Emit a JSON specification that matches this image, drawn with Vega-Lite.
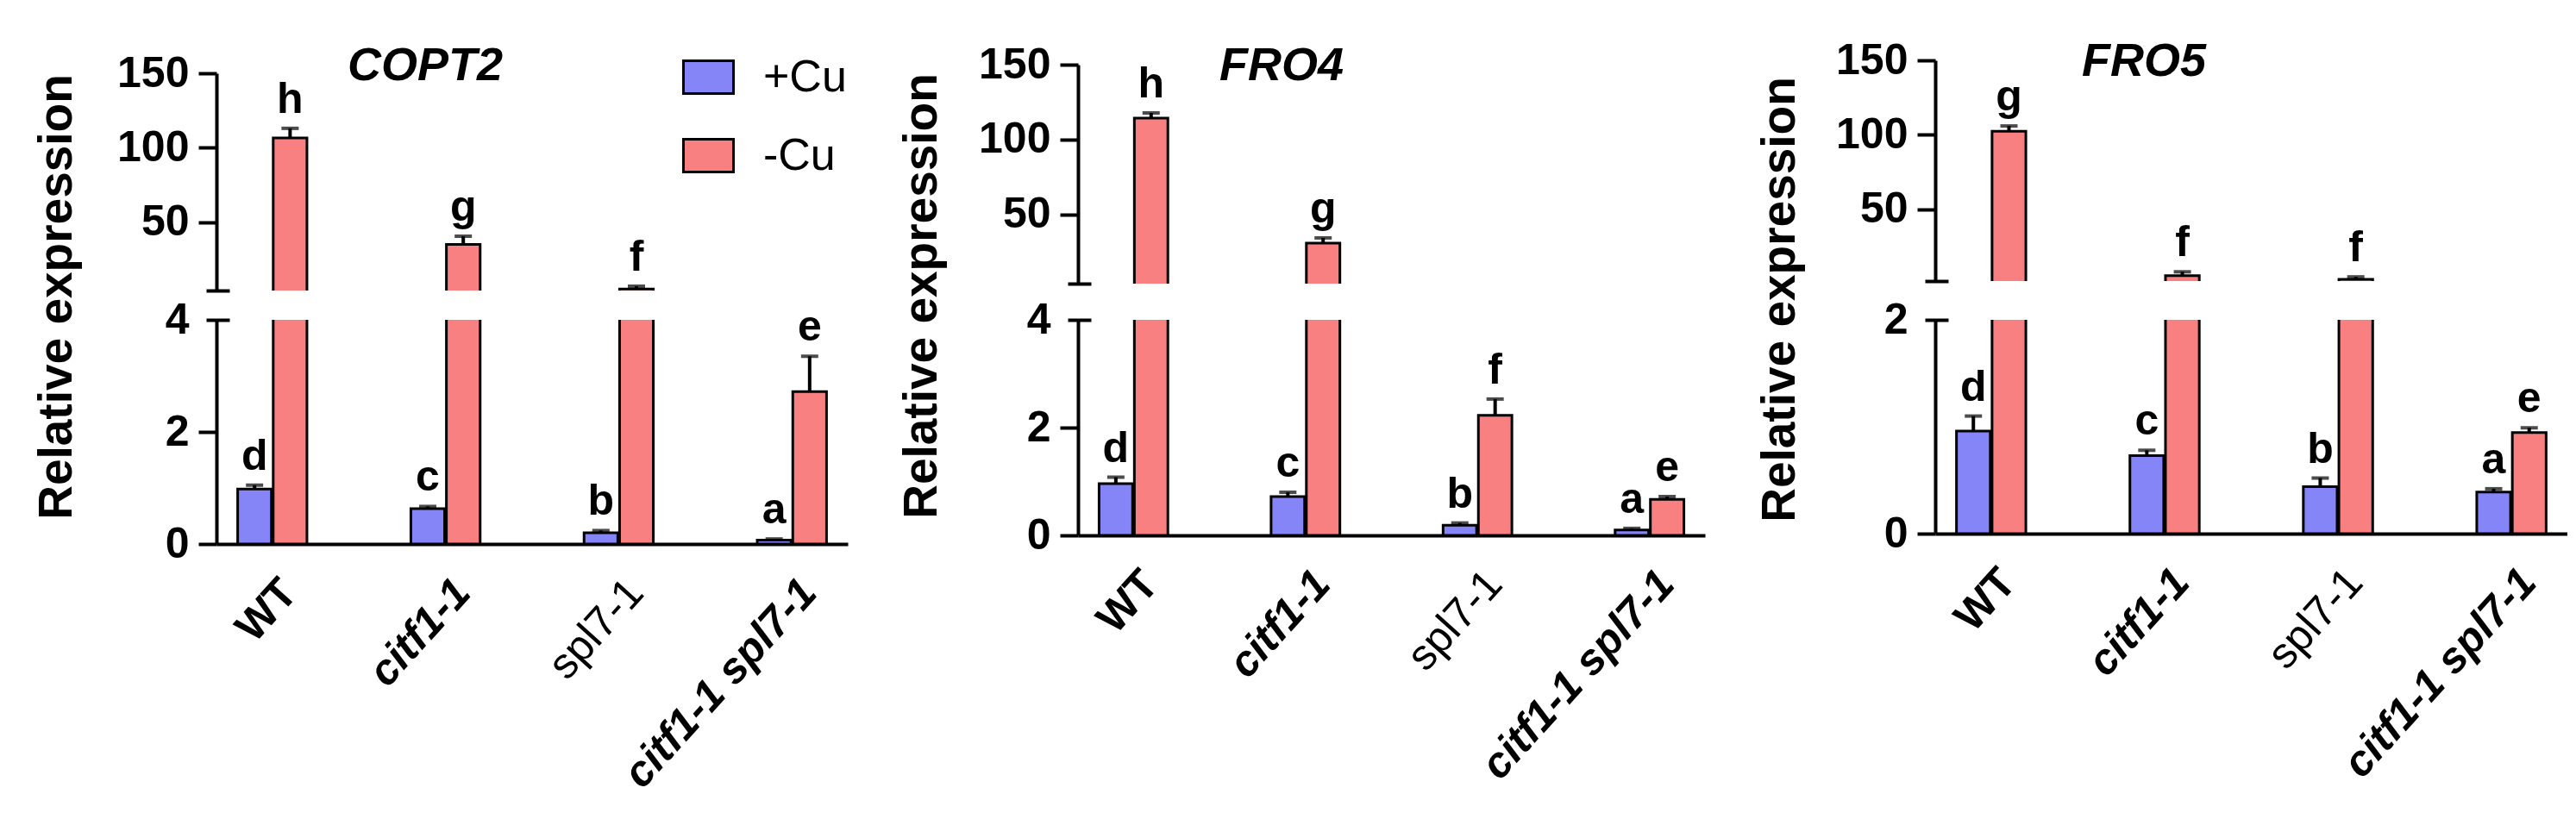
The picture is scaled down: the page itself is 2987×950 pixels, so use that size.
{
"$schema": "https://vega.github.io/schema/vega-lite/v6.json",
"background": "white",
"padding": {"left": 37, "top": 45, "right": 0, "bottom": 0},
"datasets": {"expr": [
{"gene":"COPT2","genotype":"WT","cond":"+Cu","mean":0.98,"hi":1.05,"letter":"d"},
{"gene":"COPT2","genotype":"WT","cond":"-Cu","mean":106.5,"hi":113,"letter":"h"},
{"gene":"COPT2","genotype":"citf1-1","cond":"+Cu","mean":0.63,"hi":0.67,"letter":"c"},
{"gene":"COPT2","genotype":"citf1-1","cond":"-Cu","mean":35,"hi":40.5,"letter":"g"},
{"gene":"COPT2","genotype":"spl7-1","cond":"+Cu","mean":0.2,"hi":0.24,"letter":"b"},
{"gene":"COPT2","genotype":"spl7-1","cond":"-Cu","mean":5,"hi":6.9,"letter":"f"},
{"gene":"COPT2","genotype":"citf1-1 spl7-1","cond":"+Cu","mean":0.07,"hi":0.09,"letter":"a"},
{"gene":"COPT2","genotype":"citf1-1 spl7-1","cond":"-Cu","mean":2.72,"hi":3.35,"letter":"e"},
{"gene":"FRO4","genotype":"WT","cond":"+Cu","mean":0.96,"hi":1.08,"letter":"d"},
{"gene":"FRO4","genotype":"WT","cond":"-Cu","mean":114.4,"hi":117.8,"letter":"h"},
{"gene":"FRO4","genotype":"citf1-1","cond":"+Cu","mean":0.72,"hi":0.8,"letter":"c"},
{"gene":"FRO4","genotype":"citf1-1","cond":"-Cu","mean":31,"hi":34.5,"letter":"g"},
{"gene":"FRO4","genotype":"spl7-1","cond":"+Cu","mean":0.19,"hi":0.23,"letter":"b"},
{"gene":"FRO4","genotype":"spl7-1","cond":"-Cu","mean":2.23,"hi":2.53,"letter":"f"},
{"gene":"FRO4","genotype":"citf1-1 spl7-1","cond":"+Cu","mean":0.1,"hi":0.13,"letter":"a"},
{"gene":"FRO4","genotype":"citf1-1 spl7-1","cond":"-Cu","mean":0.67,"hi":0.72,"letter":"e"},
{"gene":"FRO5","genotype":"WT","cond":"+Cu","mean":0.96,"hi":1.1,"letter":"d"},
{"gene":"FRO5","genotype":"WT","cond":"-Cu","mean":102.4,"hi":106,"letter":"g"},
{"gene":"FRO5","genotype":"citf1-1","cond":"+Cu","mean":0.73,"hi":0.78,"letter":"c"},
{"gene":"FRO5","genotype":"citf1-1","cond":"-Cu","mean":5.6,"hi":8.2,"letter":"f"},
{"gene":"FRO5","genotype":"spl7-1","cond":"+Cu","mean":0.44,"hi":0.52,"letter":"b"},
{"gene":"FRO5","genotype":"spl7-1","cond":"-Cu","mean":3.2,"hi":4.8,"letter":"f"},
{"gene":"FRO5","genotype":"citf1-1 spl7-1","cond":"+Cu","mean":0.39,"hi":0.42,"letter":"a"},
{"gene":"FRO5","genotype":"citf1-1 spl7-1","cond":"-Cu","mean":0.945,"hi":0.99,"letter":"e"}
]},
"config": {
  "font": "Liberation Sans",
  "view": {"stroke": null},
  "axis": {"grid": false, "labelColor": "black", "domainColor": "black", "tickColor": "black", "titleColor": "black"},
  "legend": {"orient": "none", "legendX": 540, "legendY": -11, "padding": 0, "symbolType": "M-1,-0.655L1,-0.655L1,0.655L-1,0.655Z", "symbolSize": 3364, "symbolStrokeColor": "black", "symbolStrokeWidth": 3, "labelFontSize": 52, "labelColor": "black", "labelOffset": 33, "rowPadding": 34, "labelLimit": 0}
},
"columns": 3,
"bounds": "flush",
"align": "each",
"spacing": {"row": 34, "column": 267},
"resolve": {"scale": {"x": "independent", "y": "independent", "xOffset": "independent", "color": "shared"}, "legend": {"color": "shared"}},
"concat": [
{
  "width": 732, "height": 267,
  "title": {"text": "COPT2", "anchor": "start", "frame": "group", "dx": 152, "offset": -87, "fontSize": 54, "fontStyle": "italic", "fontWeight": "bold", "baseline": "alphabetic", "color": "black"},
  "data": {"name": "expr"},
  "transform": [{"filter": "datum.gene === 'COPT2'"}],
  "encoding": {
    "x": {"field": "genotype", "type": "nominal", "sort": ["WT","citf1-1","spl7-1","citf1-1 spl7-1"], "scale": {"domain": ["WT","citf1-1","spl7-1","citf1-1 spl7-1"], "paddingInner": 0.6, "paddingOuter": 0.1225}, "axis": null},
    "xOffset": {"field": "cond", "type": "nominal", "sort": ["+Cu","-Cu"], "scale": {"domain": ["+Cu","-Cu"], "paddingInner": 0.05}}
  },
  "layer": [
    {"transform": [{"filter": "datum.mean > 4"}],
     "mark": {"type": "bar", "clip": true, "stroke": "black", "strokeWidth": 3},
     "encoding": {
       "y": {"field": "mean", "type": "quantitative", "scale": {"domain": [4,150], "range": [267,15], "nice": false, "zero": false}, "axis": {"orient": "left", "values": [50,100,150], "tickSize": 21, "tickWidth": 4, "domainWidth": 4, "labelFontSize": 50, "labelFontWeight": "bold", "labelPadding": 11, "title": null}},
       "y2": {"datum": 0},
       "color": {"field": "cond", "type": "nominal", "scale": {"domain": ["+Cu","-Cu"], "range": ["#8585F7","#F98080"]}, "legend": {"title": null}}}},
    {"transform": [{"filter": "datum.hi > 4"}],
     "mark": {"type": "rule", "clip": true, "strokeWidth": 4, "color": "black"},
     "encoding": {"y": {"field": "mean", "type": "quantitative", "scale": {"domain": [4,150], "range": [267,15], "nice": false, "zero": false}, "axis": null}, "y2": {"field": "hi"}}},
    {"transform": [{"filter": "datum.hi > 4"}],
     "mark": {"type": "tick", "clip": true, "size": 20, "thickness": 4, "color": "black", "orient": "horizontal"},
     "encoding": {"y": {"field": "hi", "type": "quantitative", "scale": {"domain": [4,150], "range": [267,15], "nice": false, "zero": false}, "axis": {"orient": "left", "values": [4], "offset": -15, "tickSize": 27, "tickWidth": 4, "domain": false, "labels": false, "title": null}}}},
    {"transform": [{"filter": "datum.hi > 4"}],
     "mark": {"type": "text", "dy": -18, "baseline": "alphabetic", "fontSize": 50, "fontWeight": "bold", "color": "black"},
     "encoding": {"y": {"field": "hi", "type": "quantitative", "scale": {"domain": [4,150], "range": [267,15], "nice": false, "zero": false}, "axis": null}, "text": {"field": "letter"}}}
  ],
  "resolve": {"axis": {"y": "independent"}}
},
{
  "width": 727, "height": 259,
  "title": {"text": "FRO4", "anchor": "start", "frame": "group", "dx": 164, "offset": -97, "fontSize": 54, "fontStyle": "italic", "fontWeight": "bold", "baseline": "alphabetic", "color": "black"},
  "data": {"name": "expr"},
  "transform": [{"filter": "datum.gene === 'FRO4'"}],
  "encoding": {
    "x": {"field": "genotype", "type": "nominal", "sort": ["WT","citf1-1","spl7-1","citf1-1 spl7-1"], "scale": {"domain": ["WT","citf1-1","spl7-1","citf1-1 spl7-1"], "paddingInner": 0.6, "paddingOuter": 0.1225}, "axis": null},
    "xOffset": {"field": "cond", "type": "nominal", "sort": ["+Cu","-Cu"], "scale": {"domain": ["+Cu","-Cu"], "paddingInner": 0.05}}
  },
  "layer": [
    {"transform": [{"filter": "datum.mean > 4"}],
     "mark": {"type": "bar", "clip": true, "stroke": "black", "strokeWidth": 3},
     "encoding": {
       "y": {"field": "mean", "type": "quantitative", "scale": {"domain": [4,150], "range": [259,5], "nice": false, "zero": false}, "axis": {"orient": "left", "values": [50,100,150], "tickSize": 21, "tickWidth": 4, "domainWidth": 4, "labelFontSize": 50, "labelFontWeight": "bold", "labelPadding": 11, "title": null}},
       "y2": {"datum": 0},
       "color": {"field": "cond", "type": "nominal", "scale": {"domain": ["+Cu","-Cu"], "range": ["#8585F7","#F98080"]}, "legend": {"title": null}}}},
    {"transform": [{"filter": "datum.hi > 4"}],
     "mark": {"type": "rule", "clip": true, "strokeWidth": 4, "color": "black"},
     "encoding": {"y": {"field": "mean", "type": "quantitative", "scale": {"domain": [4,150], "range": [259,5], "nice": false, "zero": false}, "axis": null}, "y2": {"field": "hi"}}},
    {"transform": [{"filter": "datum.hi > 4"}],
     "mark": {"type": "tick", "clip": true, "size": 20, "thickness": 4, "color": "black", "orient": "horizontal"},
     "encoding": {"y": {"field": "hi", "type": "quantitative", "scale": {"domain": [4,150], "range": [259,5], "nice": false, "zero": false}, "axis": {"orient": "left", "values": [4], "offset": -15, "tickSize": 27, "tickWidth": 4, "domain": false, "labels": false, "title": null}}}},
    {"transform": [{"filter": "datum.hi > 4"}],
     "mark": {"type": "text", "dy": -18, "baseline": "alphabetic", "fontSize": 50, "fontWeight": "bold", "color": "black"},
     "encoding": {"y": {"field": "hi", "type": "quantitative", "scale": {"domain": [4,150], "range": [259,5], "nice": false, "zero": false}, "axis": null}, "text": {"field": "letter"}}}
  ],
  "resolve": {"axis": {"y": "independent"}}
},
{
  "width": 733, "height": 256,
  "title": {"text": "FRO5", "anchor": "start", "frame": "group", "dx": 170, "offset": -97, "fontSize": 54, "fontStyle": "italic", "fontWeight": "bold", "baseline": "alphabetic", "color": "black"},
  "data": {"name": "expr"},
  "transform": [{"filter": "datum.gene === 'FRO5'"}],
  "encoding": {
    "x": {"field": "genotype", "type": "nominal", "sort": ["WT","citf1-1","spl7-1","citf1-1 spl7-1"], "scale": {"domain": ["WT","citf1-1","spl7-1","citf1-1 spl7-1"], "paddingInner": 0.6, "paddingOuter": 0.1225}, "axis": null},
    "xOffset": {"field": "cond", "type": "nominal", "sort": ["+Cu","-Cu"], "scale": {"domain": ["+Cu","-Cu"], "paddingInner": 0.05}}
  },
  "layer": [
    {"transform": [{"filter": "datum.mean > 2"}],
     "mark": {"type": "bar", "clip": true, "stroke": "black", "strokeWidth": 3},
     "encoding": {
       "y": {"field": "mean", "type": "quantitative", "scale": {"domain": [2,150], "range": [256,0], "nice": false, "zero": false}, "axis": {"orient": "left", "values": [50,100,150], "tickSize": 21, "tickWidth": 4, "domainWidth": 4, "labelFontSize": 50, "labelFontWeight": "bold", "labelPadding": 11, "title": null}},
       "y2": {"datum": 0},
       "color": {"field": "cond", "type": "nominal", "scale": {"domain": ["+Cu","-Cu"], "range": ["#8585F7","#F98080"]}, "legend": {"title": null}}}},
    {"transform": [{"filter": "datum.hi > 2"}],
     "mark": {"type": "rule", "clip": true, "strokeWidth": 4, "color": "black"},
     "encoding": {"y": {"field": "mean", "type": "quantitative", "scale": {"domain": [2,150], "range": [256,0], "nice": false, "zero": false}, "axis": null}, "y2": {"field": "hi"}}},
    {"transform": [{"filter": "datum.hi > 2"}],
     "mark": {"type": "tick", "clip": true, "size": 20, "thickness": 4, "color": "black", "orient": "horizontal"},
     "encoding": {"y": {"field": "hi", "type": "quantitative", "scale": {"domain": [2,150], "range": [256,0], "nice": false, "zero": false}, "axis": {"orient": "left", "values": [2], "offset": -15, "tickSize": 27, "tickWidth": 4, "domain": false, "labels": false, "title": null}}}},
    {"transform": [{"filter": "datum.hi > 2"}],
     "mark": {"type": "text", "dy": -18, "baseline": "alphabetic", "fontSize": 50, "fontWeight": "bold", "color": "black"},
     "encoding": {"y": {"field": "hi", "type": "quantitative", "scale": {"domain": [2,150], "range": [256,0], "nice": false, "zero": false}, "axis": null}, "text": {"field": "letter"}}}
  ],
  "resolve": {"axis": {"y": "independent"}}
},
{
  "width": 732, "height": 260,
  "data": {"name": "expr"},
  "transform": [{"filter": "datum.gene === 'COPT2'"}],
  "encoding": {
    "x": {"field": "genotype", "type": "nominal", "sort": ["WT","citf1-1","spl7-1","citf1-1 spl7-1"], "scale": {"domain": ["WT","citf1-1","spl7-1","citf1-1 spl7-1"], "paddingInner": 0.6, "paddingOuter": 0.1225},
      "axis": {"title": null, "ticks": false, "domainWidth": 4, "labelAngle": -48, "labelAlign": "right", "labelBaseline": "middle", "labelFontSize": 50, "labelFontWeight": {"condition": {"test": "datum.value === 'spl7-1'", "value": "normal"}, "value": "bold"}, "labelFontStyle": {"condition": {"test": "datum.value === 'WT' || datum.value === 'spl7-1'", "value": "normal"}, "value": "italic"}, "labelPadding": 48, "labelOffset": 20, "labelOverlap": false, "labelBound": false, "labelFlush": false, "labelLimit": 0}},
    "xOffset": {"field": "cond", "type": "nominal", "sort": ["+Cu","-Cu"], "scale": {"domain": ["+Cu","-Cu"], "paddingInner": 0.05}}
  },
  "layer": [
    {"mark": {"type": "bar", "clip": true, "stroke": "black", "strokeWidth": 3},
     "encoding": {
       "y": {"field": "mean", "type": "quantitative", "scale": {"domain": [0,4], "nice": false}, "axis": {"orient": "left", "values": [0,2,4], "tickSize": 21, "tickWidth": 4, "tickColor": {"condition": {"test": "datum.value === 4", "value": "transparent"}, "value": "black"}, "domainWidth": 4, "labelFontSize": 50, "labelFontWeight": "bold", "labelPadding": 11, "title": "Relative expression", "titleFontSize": 55, "titleFontWeight": "bold", "titleAngle": -90, "titleAlign": "center", "titleBaseline": "middle", "titleX": -186, "titleY": -27}},
       "color": {"field": "cond", "type": "nominal", "scale": {"domain": ["+Cu","-Cu"], "range": ["#8585F7","#F98080"]}, "legend": {"title": null}}}},
    {"mark": {"type": "rule", "clip": true, "strokeWidth": 4, "color": "black"},
     "encoding": {"y": {"field": "mean", "type": "quantitative", "scale": {"domain": [0,4], "nice": false}, "axis": null}, "y2": {"field": "hi"}}},
    {"transform": [{"filter": "datum.hi <= 4"}],
     "mark": {"type": "tick", "clip": true, "size": 20, "thickness": 4, "color": "black", "orient": "horizontal"},
     "encoding": {"y": {"field": "hi", "type": "quantitative", "scale": {"domain": [0,4], "nice": false}, "axis": {"orient": "left", "values": [4], "offset": -15, "tickSize": 27, "tickWidth": 4, "domain": false, "labels": false, "title": null}}}},
    {"transform": [{"filter": "datum.hi <= 4"}],
     "mark": {"type": "text", "dy": -18, "baseline": "alphabetic", "fontSize": 50, "fontWeight": "bold", "color": "black"},
     "encoding": {"y": {"field": "hi", "type": "quantitative", "scale": {"domain": [0,4], "nice": false}, "axis": null}, "text": {"field": "letter"}}}
  ],
  "resolve": {"axis": {"y": "independent"}}
},
{
  "width": 727, "height": 250,
  "data": {"name": "expr"},
  "transform": [{"filter": "datum.gene === 'FRO4'"}],
  "encoding": {
    "x": {"field": "genotype", "type": "nominal", "sort": ["WT","citf1-1","spl7-1","citf1-1 spl7-1"], "scale": {"domain": ["WT","citf1-1","spl7-1","citf1-1 spl7-1"], "paddingInner": 0.6, "paddingOuter": 0.1225},
      "axis": {"title": null, "ticks": false, "domainWidth": 4, "labelAngle": -48, "labelAlign": "right", "labelBaseline": "middle", "labelFontSize": 50, "labelFontWeight": {"condition": {"test": "datum.value === 'spl7-1'", "value": "normal"}, "value": "bold"}, "labelFontStyle": {"condition": {"test": "datum.value === 'WT' || datum.value === 'spl7-1'", "value": "normal"}, "value": "italic"}, "labelPadding": 48, "labelOffset": 20, "labelOverlap": false, "labelBound": false, "labelFlush": false, "labelLimit": 0}},
    "xOffset": {"field": "cond", "type": "nominal", "sort": ["+Cu","-Cu"], "scale": {"domain": ["+Cu","-Cu"], "paddingInner": 0.05}}
  },
  "layer": [
    {"mark": {"type": "bar", "clip": true, "stroke": "black", "strokeWidth": 3},
     "encoding": {
       "y": {"field": "mean", "type": "quantitative", "scale": {"domain": [0,4], "nice": false}, "axis": {"orient": "left", "values": [0,2,4], "tickSize": 21, "tickWidth": 4, "tickColor": {"condition": {"test": "datum.value === 4", "value": "transparent"}, "value": "black"}, "domainWidth": 4, "labelFontSize": 50, "labelFontWeight": "bold", "labelPadding": 11, "title": "Relative expression", "titleFontSize": 55, "titleFontWeight": "bold", "titleAngle": -90, "titleAlign": "center", "titleBaseline": "middle", "titleX": -182, "titleY": -28}},
       "color": {"field": "cond", "type": "nominal", "scale": {"domain": ["+Cu","-Cu"], "range": ["#8585F7","#F98080"]}, "legend": {"title": null}}}},
    {"mark": {"type": "rule", "clip": true, "strokeWidth": 4, "color": "black"},
     "encoding": {"y": {"field": "mean", "type": "quantitative", "scale": {"domain": [0,4], "nice": false}, "axis": null}, "y2": {"field": "hi"}}},
    {"transform": [{"filter": "datum.hi <= 4"}],
     "mark": {"type": "tick", "clip": true, "size": 20, "thickness": 4, "color": "black", "orient": "horizontal"},
     "encoding": {"y": {"field": "hi", "type": "quantitative", "scale": {"domain": [0,4], "nice": false}, "axis": {"orient": "left", "values": [4], "offset": -15, "tickSize": 27, "tickWidth": 4, "domain": false, "labels": false, "title": null}}}},
    {"transform": [{"filter": "datum.hi <= 4"}],
     "mark": {"type": "text", "dy": -18, "baseline": "alphabetic", "fontSize": 50, "fontWeight": "bold", "color": "black"},
     "encoding": {"y": {"field": "hi", "type": "quantitative", "scale": {"domain": [0,4], "nice": false}, "axis": null}, "text": {"field": "letter"}}}
  ],
  "resolve": {"axis": {"y": "independent"}}
},
{
  "width": 733, "height": 248,
  "data": {"name": "expr"},
  "transform": [{"filter": "datum.gene === 'FRO5'"}],
  "encoding": {
    "x": {"field": "genotype", "type": "nominal", "sort": ["WT","citf1-1","spl7-1","citf1-1 spl7-1"], "scale": {"domain": ["WT","citf1-1","spl7-1","citf1-1 spl7-1"], "paddingInner": 0.6, "paddingOuter": 0.1225},
      "axis": {"title": null, "ticks": false, "domainWidth": 4, "labelAngle": -48, "labelAlign": "right", "labelBaseline": "middle", "labelFontSize": 50, "labelFontWeight": {"condition": {"test": "datum.value === 'spl7-1'", "value": "normal"}, "value": "bold"}, "labelFontStyle": {"condition": {"test": "datum.value === 'WT' || datum.value === 'spl7-1'", "value": "normal"}, "value": "italic"}, "labelPadding": 48, "labelOffset": 20, "labelOverlap": false, "labelBound": false, "labelFlush": false, "labelLimit": 0}},
    "xOffset": {"field": "cond", "type": "nominal", "sort": ["+Cu","-Cu"], "scale": {"domain": ["+Cu","-Cu"], "paddingInner": 0.05}}
  },
  "layer": [
    {"mark": {"type": "bar", "clip": true, "stroke": "black", "strokeWidth": 3},
     "encoding": {
       "y": {"field": "mean", "type": "quantitative", "scale": {"domain": [0,2], "nice": false}, "axis": {"orient": "left", "values": [0,1,2], "format": "d", "tickSize": 21, "tickWidth": 4, "tickColor": {"condition": {"test": "datum.value === 2", "value": "transparent"}, "value": "black"}, "domainWidth": 4, "labelFontSize": 50, "labelFontWeight": "bold", "labelPadding": 11, "title": "Relative expression", "titleFontSize": 55, "titleFontWeight": "bold", "titleAngle": -90, "titleAlign": "center", "titleBaseline": "middle", "titleX": -181, "titleY": -24}},
       "color": {"field": "cond", "type": "nominal", "scale": {"domain": ["+Cu","-Cu"], "range": ["#8585F7","#F98080"]}, "legend": {"title": null}}}},
    {"mark": {"type": "rule", "clip": true, "strokeWidth": 4, "color": "black"},
     "encoding": {"y": {"field": "mean", "type": "quantitative", "scale": {"domain": [0,2], "nice": false}, "axis": null}, "y2": {"field": "hi"}}},
    {"transform": [{"filter": "datum.hi <= 2"}],
     "mark": {"type": "tick", "clip": true, "size": 20, "thickness": 4, "color": "black", "orient": "horizontal"},
     "encoding": {"y": {"field": "hi", "type": "quantitative", "scale": {"domain": [0,2], "nice": false}, "axis": {"orient": "left", "values": [2], "offset": -15, "tickSize": 27, "tickWidth": 4, "domain": false, "labels": false, "title": null}}}},
    {"transform": [{"filter": "datum.hi <= 2"}],
     "mark": {"type": "text", "dy": -18, "baseline": "alphabetic", "fontSize": 50, "fontWeight": "bold", "color": "black"},
     "encoding": {"y": {"field": "hi", "type": "quantitative", "scale": {"domain": [0,2], "nice": false}, "axis": null}, "text": {"field": "letter"}}}
  ],
  "resolve": {"axis": {"y": "independent"}}
}
]
}
